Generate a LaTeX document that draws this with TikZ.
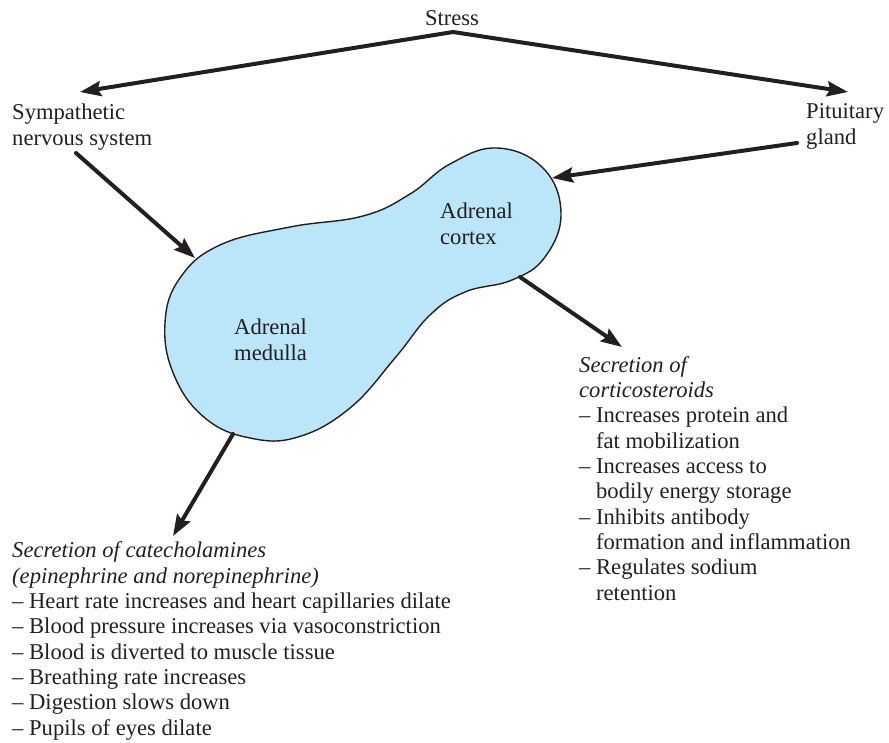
\documentclass[tikz,border=0pt]{standalone}
\usepackage{fontspec}
\setmainfont{Liberation Serif}
\usetikzlibrary{arrows.meta}
\definecolor{ink}{RGB}{35,31,32}
\definecolor{glandfill}{RGB}{187,229,248}
\newcommand{\indentdash}{\phantom{– }}
\begin{document}
\begin{tikzpicture}[x=1pt,y=-1pt,
  lbl/.style={inner sep=0pt, align=left, text=ink, font=\fontsize{22.6}{25.3}\selectfont},
  conn/.style={draw=ink, line width=4pt, line cap=round, -{Stealth[length=21pt,width=15pt,inset=3pt]}},
  blobline/.style={draw=ink, line width=1.4pt, fill=glandfill},
]
\useasboundingbox (0,0) rectangle (889,742);

% text nodes (base anchor = baseline of last line)
\node[lbl, anchor=base] (stress) at (452,25) {Stress};
\node[lbl, anchor=base west] (symp) at (12,145) {Sympathetic\\nervous system};
\node[lbl, anchor=base west] (pit) at (806,144) {Pituitary\\gland};

% adrenal gland outline
\draw[blobline] plot[smooth cycle, tension=0.7] coordinates {
  (497,148) (543,168) (561,213) (545,257) (512,280) (465,292)
  (430,315) (395,358) (350,408) (298,437) (250,438) (205,418)
  (174,375) (165,323) (180,278) (220,245) (290,227) (363,216)
  (410,194) (450,164)
};

\node[lbl, anchor=base west] (cortex) at (440,244) {Adrenal\\cortex};
\node[lbl, anchor=base west] (medulla) at (234,360) {Adrenal\\medulla};

\node[lbl, anchor=base west] (cortico) at (579,600) {\textit{Secretion of}\\
\textit{corticosteroids}\\
– Increases protein and\\
\indentdash fat mobilization\\
– Increases access to\\
\indentdash bodily energy storage\\
– Inhibits antibody\\
\indentdash formation and inflammation\\
– Regulates sodium\\
\indentdash retention};

\node[lbl, anchor=base west] (catechol) at (12,735) {\textit{Secretion of catecholamines}\\
\textit{(epinephrine and norepinephrine)}\\
– Heart rate increases and heart capillaries dilate\\
– Blood pressure increases via vasoconstriction\\
– Blood is diverted to muscle tissue\\
– Breathing rate increases\\
– Digestion slows down\\
– Pupils of eyes dilate};

% connector end points
\coordinate (apex) at (453,32);
\coordinate (sympTip) at (80,92);
\coordinate (pitTip) at (848,92);
\coordinate (sympOut) at (76,153);
\coordinate (blobLeft) at (195,258);
\coordinate (pitOut) at (797,143);
\coordinate (blobRight) at (552,178);
\coordinate (cortexOut) at (520,277);
\coordinate (corticoTip) at (622,347);
\coordinate (medullaOut) at (233,434);
\coordinate (catecholTip) at (173,536);

\draw[conn] (apex) -- (sympTip);
\draw[conn] (apex) -- (pitTip);
\draw[conn] (sympOut) -- (blobLeft);
\draw[conn] (pitOut) -- (blobRight);
\draw[conn] (cortexOut) -- (corticoTip);
\draw[conn] (medullaOut) -- (catecholTip);
\end{tikzpicture}
\end{document}
